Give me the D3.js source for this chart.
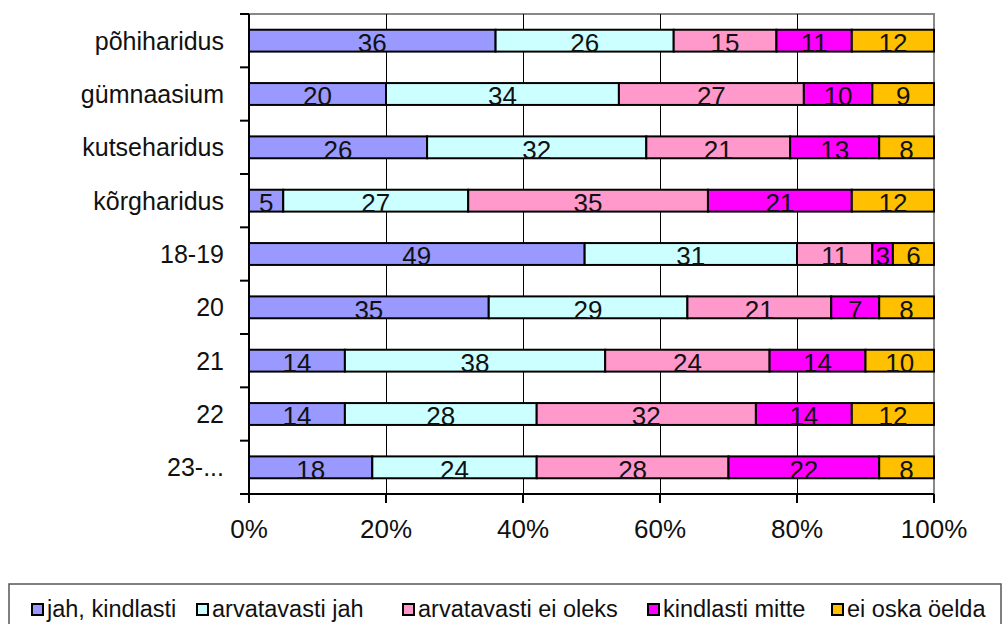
<!DOCTYPE html>
<html>
<head>
<meta charset="utf-8">
<script src="https://cdn.jsdelivr.net/npm/d3@7"></script>
<style>
body { margin: 0; background: #fff; }
text { font-family: "Liberation Sans", Arial, sans-serif; }
</style>
</head>
<body>
<div id="chart"></div>
<script>
var categories = ["põhiharidus", "gümnaasium", "kutseharidus", "kõrgharidus", "18-19", "20", "21", "22", "23-..."];
var seriesNames = ["jah, kindlasti", "arvatavasti jah", "arvatavasti ei oleks", "kindlasti mitte", "ei oska öelda"];
var jah = [36, 20, 26, 5, 49, 35, 14, 14, 18];
var arvJah = [26, 34, 32, 27, 31, 29, 38, 28, 24];
var arvEi = [15, 27, 21, 35, 11, 21, 24, 32, 28];
var mitte = [11, 10, 13, 21, 3, 7, 14, 14, 22];
var eiOska = [12, 9, 8, 12, 6, 8, 10, 12, 8];
var colors = ["#9999FF", "#CCFFFF", "#FF99CC", "#FF00FF", "#FFC000"];
var xTicks = [0, 0.2, 0.4, 0.6, 0.8, 1];

var W = 1005, H = 624;
var pLeft = 249, pRight = 934, pTop = 14, pBottom = 494;

var svg = d3.select("#chart").append("svg").attr("width", W).attr("height", H);

var x = d3.scaleLinear().domain([0, 1]).range([pLeft, pRight]);
var y = d3.scaleBand().domain(categories).range([pTop, pBottom]).paddingInner(0.59).paddingOuter(0.295);
var yb = d3.scaleBand().domain(categories).range([pTop, pBottom]);

var all = [jah, arvJah, arvEi, mitte, eiOska];

// plot border (gray)
svg.append("rect").attr("x", pLeft).attr("y", pTop).attr("width", pRight - pLeft).attr("height", pBottom - pTop)
  .attr("fill", "none").attr("stroke", "#888").attr("stroke-width", 2);

// gridlines
svg.selectAll(".grid").data(xTicks.slice(1, -1)).enter().append("line")
  .attr("x1", function(d) { return Math.round(x(d)) + 0.5; }).attr("x2", function(d) { return Math.round(x(d)) + 0.5; })
  .attr("y1", pTop).attr("y2", pBottom).attr("stroke", "#000").attr("stroke-width", 1);

// bars
categories.forEach(function(c, i) {
  var total = d3.sum(all, function(s) { return s[i]; });
  var acc = 0;
  all.forEach(function(s, k) {
    var v = s[i];
    var x0 = x(acc / total), x1 = x((acc + v) / total);
    acc += v;
    svg.append("rect").attr("x", x0).attr("y", y(c)).attr("width", x1 - x0).attr("height", y.bandwidth())
      .attr("fill", colors[k]).attr("stroke", "#000").attr("stroke-width", 2);
  });
  acc = 0;
  all.forEach(function(s, k) {
    var v = s[i];
    var x0 = x(acc / total), x1 = x((acc + v) / total);
    acc += v;
    svg.append("text").attr("x", (x0 + x1) / 2).attr("y", y(c) + y.bandwidth() + 0.5)
      .attr("text-anchor", "middle").attr("font-size", 26).attr("fill", "#111").text(v);
  });
});

// left axis
var yAxis = svg.append("g").attr("transform", "translate(" + pLeft + ",0)");
yAxis.append("line").attr("x1", 0).attr("x2", 0).attr("y1", pTop).attr("y2", pBottom + 1).attr("stroke", "#000").attr("stroke-width", 2);
var bounds = categories.map(function(c) { return yb(c); }).concat([pBottom]);
yAxis.selectAll(".tk").data(bounds).enter().append("line")
  .attr("x1", -9).attr("x2", 0).attr("y1", function(d) { return d; }).attr("y2", function(d) { return d; })
  .attr("stroke", "#000").attr("stroke-width", 2);
yAxis.selectAll(".lbl").data(categories).enter().append("text")
  .attr("x", -25).attr("y", function(d) { return y(d) + y.bandwidth() / 2 + 9; })
  .attr("text-anchor", "end").attr("font-size", 25).attr("fill", "#111").text(function(d) { return d; });

// bottom axis
var xAxis = svg.append("g").attr("transform", "translate(0," + pBottom + ")");
xAxis.append("line").attr("x1", pLeft).attr("x2", pRight).attr("stroke", "#000").attr("stroke-width", 2);
xAxis.selectAll(".tk").data(xTicks).enter().append("line")
  .attr("x1", function(d) { return x(d); }).attr("x2", function(d) { return x(d); })
  .attr("y1", 0).attr("y2", 9).attr("stroke", "#000").attr("stroke-width", 2);
xAxis.selectAll(".lbl").data(xTicks).enter().append("text")
  .attr("x", function(d) { return x(d); }).attr("y", 44)
  .attr("text-anchor", "middle").attr("font-size", 26).attr("fill", "#111")
  .text(d3.format(".0%"));

// legend
svg.append("rect").attr("x", 9).attr("y", 584).attr("width", 992).attr("height", 60)
  .attr("fill", "#fff").attr("stroke", "#555").attr("stroke-width", 1.5);
var legX = [32, 197, 403, 648, 832];
seriesNames.forEach(function(n, k) {
  svg.append("rect").attr("x", legX[k]).attr("y", 604).attr("width", 11).attr("height", 11)
    .attr("fill", colors[k]).attr("stroke", "#000").attr("stroke-width", 2);
  svg.append("text").attr("x", legX[k] + 15).attr("y", 617).attr("font-size", 23.5).attr("fill", "#111").text(n);
});
</script>
</body>
</html>
